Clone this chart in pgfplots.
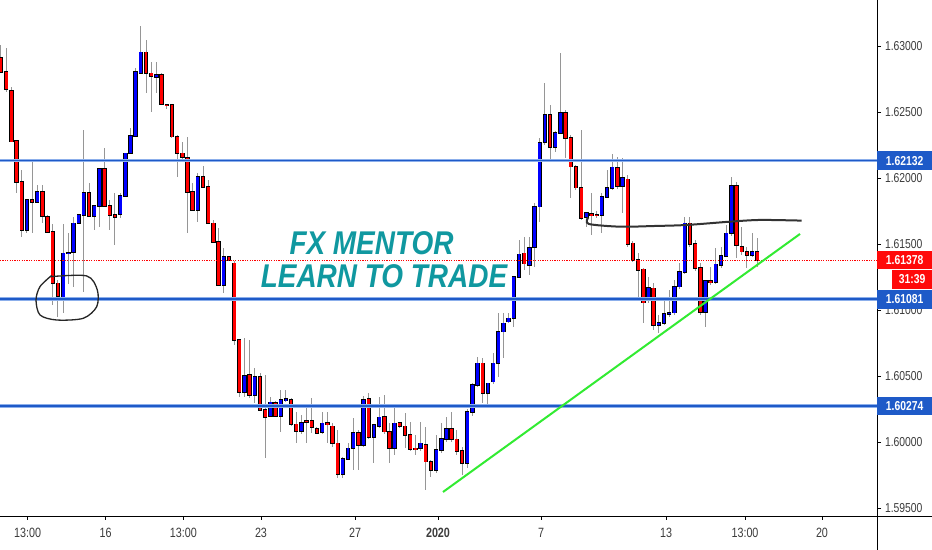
\documentclass[border=0pt]{standalone}
\usepackage{fontspec}
\setmainfont{Liberation Sans}
\usepackage{pgfplots}
\usepackage{pgfplotstable}
\pgfplotsset{compat=1.18}

\definecolor{upblue}{RGB}{0,0,255}
\definecolor{dnred}{RGB}{255,0,0}
\definecolor{wick}{RGB}{150,150,150}
\definecolor{lvl}{RGB}{30,90,200}
\definecolor{lvllight}{RGB}{140,175,235}
\definecolor{fxteal}{RGB}{16,152,160}
\definecolor{trend}{RGB}{50,235,50}
\definecolor{ticktxt}{RGB}{60,60,60}
\definecolor{boxblue}{RGB}{30,90,200}
\definecolor{boxred}{RGB}{255,10,10}

% 4h candles: index, open, high, low, close
\pgfplotstableread{
i o h l c
1 1.62907 1.63008 1.62800 1.62805
2 1.62805 1.62983 1.62654 1.62672
3 1.62661 1.62692 1.62270 1.62275
4 1.62283 1.62290 1.61884 1.61972
5 1.61972 1.62061 1.61555 1.61606
6 1.61606 1.61840 1.61581 1.61833
7 1.61833 1.62123 1.61581 1.61820
8 1.61820 1.61947 1.61815 1.61896
9 1.61896 1.61947 1.61657 1.61712
10 1.61707 1.61720 1.61590 1.61593
11 1.61593 1.61650 1.61038 1.61202
12 1.61202 1.61230 1.60949 1.61106
13 1.61101 1.61652 1.60975 1.61430
14 1.61430 1.61581 1.61202 1.61436
15 1.61436 1.61707 1.61177 1.61657
16 1.61657 1.61725 1.61650 1.61720
17 1.61720 1.62364 1.61139 1.61889
18 1.61889 1.61960 1.61707 1.61712
19 1.61712 1.61795 1.61606 1.61790
20 1.61790 1.62074 1.61631 1.62068
21 1.62068 1.62225 1.61785 1.61790
22 1.61790 1.61833 1.61606 1.61720
23 1.61720 1.61884 1.61492 1.61707
24 1.61727 1.61884 1.61695 1.61864
25 1.61864 1.62190 1.61860 1.62187
26 1.62187 1.62377 1.62180 1.62318
27 1.62318 1.62831 1.62310 1.62805
28 1.62798 1.63152 1.62790 1.62952
29 1.62952 1.63045 1.62646 1.62793
30 1.62793 1.62881 1.62502 1.62773
31 1.62763 1.62881 1.62642 1.62780
32 1.62780 1.62793 1.62550 1.62558
33 1.62558 1.62562 1.62520 1.62551
34 1.62553 1.62560 1.62305 1.62313
35 1.62313 1.62326 1.62010 1.62187
36 1.62187 1.62275 1.62136 1.62161
37 1.62154 1.62313 1.61581 1.61896
38 1.61896 1.61960 1.61750 1.61758
39 1.61758 1.62036 1.61669 1.62010
40 1.62010 1.62091 1.61930 1.61934
41 1.61934 1.61985 1.61650 1.61657
42 1.61657 1.61682 1.61510 1.61517
43 1.61517 1.61619 1.61185 1.61189
44 1.61189 1.61468 1.61127 1.61404
45 1.61404 1.61410 1.61370 1.61379
46 1.61354 1.61370 1.60735 1.60773
47 1.60773 1.60780 1.60343 1.60381
48 1.60381 1.60786 1.60343 1.60500
49 1.60508 1.60773 1.60333 1.60356
50 1.60356 1.60558 1.60293 1.60495
51 1.60495 1.60520 1.60238 1.60242
52 1.60242 1.60508 1.59877 1.60187
53 1.60197 1.60343 1.60190 1.60301
54 1.60293 1.60310 1.60190 1.60197
55 1.60197 1.60394 1.60078 1.60318
56 1.60318 1.60394 1.60300 1.60325
57 1.60318 1.60330 1.60120 1.60134
58 1.60134 1.60229 1.59990 1.60086
59 1.60086 1.60205 1.60060 1.60146
60 1.60161 1.60268 1.59990 1.60149
61 1.60161 1.60331 1.60068 1.60111
62 1.60098 1.60110 1.60060 1.60066
63 1.60078 1.60229 1.60060 1.60142
64 1.60142 1.60229 1.59990 1.60134
65 1.60119 1.60140 1.59960 1.59990
66 1.59990 1.60091 1.59725 1.59755
67 1.59755 1.59890 1.59725 1.59871
68 1.59871 1.59990 1.59864 1.59952
69 1.59952 1.60180 1.59788 1.60071
70 1.60071 1.60090 1.59788 1.59977
71 1.59977 1.60348 1.59960 1.60318
72 1.60326 1.60369 1.60020 1.60036
73 1.60036 1.60140 1.59839 1.60129
74 1.60119 1.60343 1.60110 1.60187
75 1.60192 1.60356 1.60060 1.60078
76 1.60078 1.60142 1.59839 1.59952
77 1.59952 1.60268 1.59901 1.60142
78 1.60142 1.60150 1.60110 1.60119
79 1.60119 1.60217 1.59955 1.60053
80 1.60053 1.60150 1.59930 1.59945
81 1.59952 1.60050 1.59900 1.59945
82 1.59952 1.60154 1.59930 1.59990
83 1.59977 1.60116 1.59636 1.59851
84 1.59851 1.59864 1.59737 1.59788
85 1.59788 1.60053 1.59770 1.59940
86 1.59940 1.60142 1.59920 1.60021
87 1.60021 1.60192 1.60000 1.60097
88 1.60097 1.60229 1.60000 1.60021
89 1.60021 1.60091 1.59900 1.59934
90 1.59934 1.59960 1.59750 1.59839
91 1.59839 1.60250 1.59803 1.60229
92 1.60229 1.60450 1.60200 1.60432
93 1.60432 1.60646 1.60420 1.60596
94 1.60596 1.60636 1.60293 1.60369
95 1.60369 1.60450 1.60268 1.60445
96 1.60457 1.60672 1.60440 1.60596
97 1.60596 1.60975 1.60495 1.60836
98 1.60836 1.60975 1.60634 1.60899
99 1.60912 1.60975 1.60899 1.60937
100 1.60937 1.61260 1.60874 1.61252
101 1.61252 1.61530 1.61240 1.61422
102 1.61430 1.61555 1.61303 1.61354
103 1.61341 1.61555 1.61265 1.61468
104 1.61480 1.61808 1.61328 1.61783
105 1.61783 1.62301 1.61669 1.62268
106 1.62275 1.62717 1.62250 1.62477
107 1.62477 1.62553 1.62136 1.62233
108 1.62233 1.62360 1.62200 1.62343
109 1.62343 1.62949 1.62330 1.62495
110 1.62495 1.62515 1.62150 1.62301
111 1.62305 1.62326 1.61846 1.62086
112 1.62086 1.62100 1.61909 1.61927
113 1.61927 1.62364 1.61682 1.61695
114 1.61702 1.61745 1.61631 1.61737
115 1.61727 1.61889 1.61568 1.61720
116 1.61720 1.61750 1.61700 1.61717
117 1.61720 1.61889 1.61581 1.61858
118 1.61858 1.62061 1.61850 1.61927
119 1.61927 1.62180 1.61910 1.62081
120 1.62074 1.62161 1.61920 1.61939
121 1.61939 1.62149 1.61733 1.62002
122 1.61990 1.62023 1.61480 1.61500
123 1.61505 1.61520 1.61360 1.61379
124 1.61379 1.61430 1.61089 1.61303
125 1.61308 1.61316 1.60899 1.61056
126 1.61071 1.61252 1.61050 1.61165
127 1.61165 1.61202 1.60848 1.60886
128 1.60886 1.60962 1.60823 1.60904
129 1.60904 1.61076 1.60890 1.60970
130 1.60970 1.61152 1.60950 1.60980
131 1.60980 1.61228 1.60960 1.61177
132 1.61177 1.61354 1.61160 1.61290
133 1.61290 1.61707 1.61270 1.61657
134 1.61657 1.61707 1.61480 1.61498
135 1.61498 1.61530 1.61300 1.61320
136 1.61320 1.61354 1.60962 1.60987
137 1.60982 1.61230 1.60874 1.61220
138 1.61220 1.61328 1.61190 1.61212
139 1.61212 1.61468 1.61200 1.61346
140 1.61341 1.61480 1.61320 1.61409
141 1.61409 1.61644 1.61400 1.61581
142 1.61581 1.62010 1.61560 1.61939
143 1.61939 1.61972 1.61392 1.61492
144 1.61480 1.61631 1.61420 1.61442
145 1.61442 1.61480 1.61316 1.61417
146 1.61417 1.61581 1.61400 1.61442
147 1.61442 1.61543 1.61328 1.61379
}\candles

\begin{document}
\begin{tikzpicture}
\fill[white] (0,-34bp) rectangle (932bp,516bp);
\path[use as bounding box] (0,-34bp) rectangle (932bp,516bp);
\begin{axis}[
    at={(0,0)}, anchor=south west,
    scale only axis, width=877bp, height=516bp,
    xmin=0.807, xmax=170.11,
    ymin=1.59439, ymax=1.633485,
    clip=false,
    axis x line*=bottom, axis y line*=right,
    axis line style={draw=none},
    tick align=outside, major tick length=4bp,
    tick style={draw=black, line width=0.8bp},
    /pgf/number format/assume math mode=true,
    ytick={1.595,1.600,1.605,1.610,1.615,1.620,1.625,1.630},
    yticklabel={\pgfmathprintnumber[fixed,fixed zerofill,precision=5]{\tick}},
    yticklabel style={font=\fontsize{13}{15}\selectfont, text=ticktxt, xscale=0.8, xshift=1.5bp},
    xtick={6.15,21.21,36.19,51.19,69.34,85.36,105.25,129.38,144.63,159.49},
    xticklabels={13:00,16,13:00,23,27,\textbf{2020},7,13,13:00,20},
    xticklabel style={font=\fontsize{13.5}{15}\selectfont, text=ticktxt, xscale=0.8, yshift=-5bp},
    candle/.style={draw=none, mark=none, error bars/.cd, y dir=both, y explicit, error mark=none},
]

% wicks
\addplot[candle, error bar style={draw=wick, line width=1bp}]
  table[x=i, y expr={(\thisrow{h}+\thisrow{l})/2}, y error expr={(\thisrow{h}-\thisrow{l})/2}] {\candles};

% body outlines
\addplot[candle, error bar style={draw=black, line width=4.4bp}]
  table[x=i, y expr={(\thisrow{o}+\thisrow{c})/2}, y error expr={abs(\thisrow{c}-\thisrow{o})/2+0.00006}] {\candles};

% up bodies
\addplot[restrict expr to domain={\thisrow{c}-\thisrow{o}}{0:1}, candle,
    error bar style={draw=upblue, line width=2.8bp}]
  table[x=i, y expr={(\thisrow{o}+\thisrow{c})/2}, y error expr={abs(\thisrow{c}-\thisrow{o})/2}] {\candles};

% down bodies
\addplot[restrict expr to domain={\thisrow{c}-\thisrow{o}}{-1:0}, candle,
    error bar style={draw=dnred, line width=2.8bp}]
  table[x=i, y expr={(\thisrow{o}+\thisrow{c})/2}, y error expr={abs(\thisrow{c}-\thisrow{o})/2}] {\candles};

% horizontal levels
\addplot[lvllight, line width=3.6bp] coordinates {(0.807,1.62132) (170.11,1.62132)};
\addplot[lvl, line width=1.8bp] coordinates {(0.807,1.62132) (170.11,1.62132)};
\addplot[lvllight, line width=3.6bp] coordinates {(0.807,1.61081) (170.11,1.61081)};
\addplot[lvl, line width=1.8bp] coordinates {(0.807,1.61081) (170.11,1.61081)};
\addplot[lvllight, line width=3.6bp] coordinates {(0.807,1.60274) (170.11,1.60274)};
\addplot[lvl, line width=1.8bp] coordinates {(0.807,1.60274) (170.11,1.60274)};

% last price line
\addplot[dnred, line width=0.9bp, dash pattern=on 1.2bp off 1.2bp] coordinates {(0.807,1.61378) (170.11,1.61378)};

% hand drawn line over the right side
\addplot[black!80, line width=2bp, smooth] coordinates {
  (114.38,1.61700) (114.45,1.61652) (120.50,1.61631) (126.93,1.61636) (133.38,1.61644)
  (141.73,1.61669) (147.53,1.61682) (155.57,1.61677)};

% trend line
\addplot[trend, line width=2bp] coordinates {(86.33,1.59621) (155.25,1.61576)};

% circle round the low
\addplot[black!85, line width=1.3bp, smooth] coordinates {
  (10.46,1.61252) (17.54,1.61258) (19.59,1.61152) (19.48,1.61025) (16.89,1.60937)
  (11.75,1.60924) (8.53,1.60962) (7.76,1.61076) (8.53,1.61177) (10.80,1.61262)};

\node[anchor=base, text=fxteal, font=\bfseries\itshape\fontsize{33}{36}\selectfont]
  at (axis cs:72.53,1.61417) {\scalebox{0.85}[1]{FX MENTOR}};
\node[anchor=base, text=fxteal, font=\bfseries\itshape\fontsize{33}{36}\selectfont]
  at (axis cs:74.94,1.61167) {\scalebox{0.85}[1]{LEARN TO TRADE}};

\coordinate (a1) at (axis cs:170.11,1.62132);
\coordinate (a2) at (axis cs:170.11,1.61378);
\coordinate (a3) at (axis cs:170.11,1.61081);
\coordinate (a4) at (axis cs:170.11,1.60274);
\end{axis}

\draw[black, line width=1bp] (0,0) -- (932bp,0);
\draw[black, line width=1bp] (877bp,-34bp) -- (877bp,516bp);

\tikzset{pricebox/.style={anchor=west, text=white, inner sep=0pt, minimum width=55bp,
    minimum height=18.5bp, font=\bfseries\fontsize{13}{15}\selectfont}}
\node[pricebox, fill=boxblue] at (a1) {\scalebox{0.8}[1]{1.62132}};
\node[pricebox, fill=boxred] (rbox) at (a2) {\scalebox{0.8}[1]{1.61378}};
\node[anchor=north east, fill=boxred, text=white, inner sep=0pt, minimum width=40bp,
    minimum height=19bp, font=\bfseries\fontsize{13}{15}\selectfont]
  at (rbox.south east) {\scalebox{0.8}[1]{31:39}};
\node[pricebox, fill=boxblue] at (a3) {\scalebox{0.8}[1]{1.61081}};
\node[pricebox, fill=boxblue] at (a4) {\scalebox{0.8}[1]{1.60274}};
\end{tikzpicture}
\end{document}
